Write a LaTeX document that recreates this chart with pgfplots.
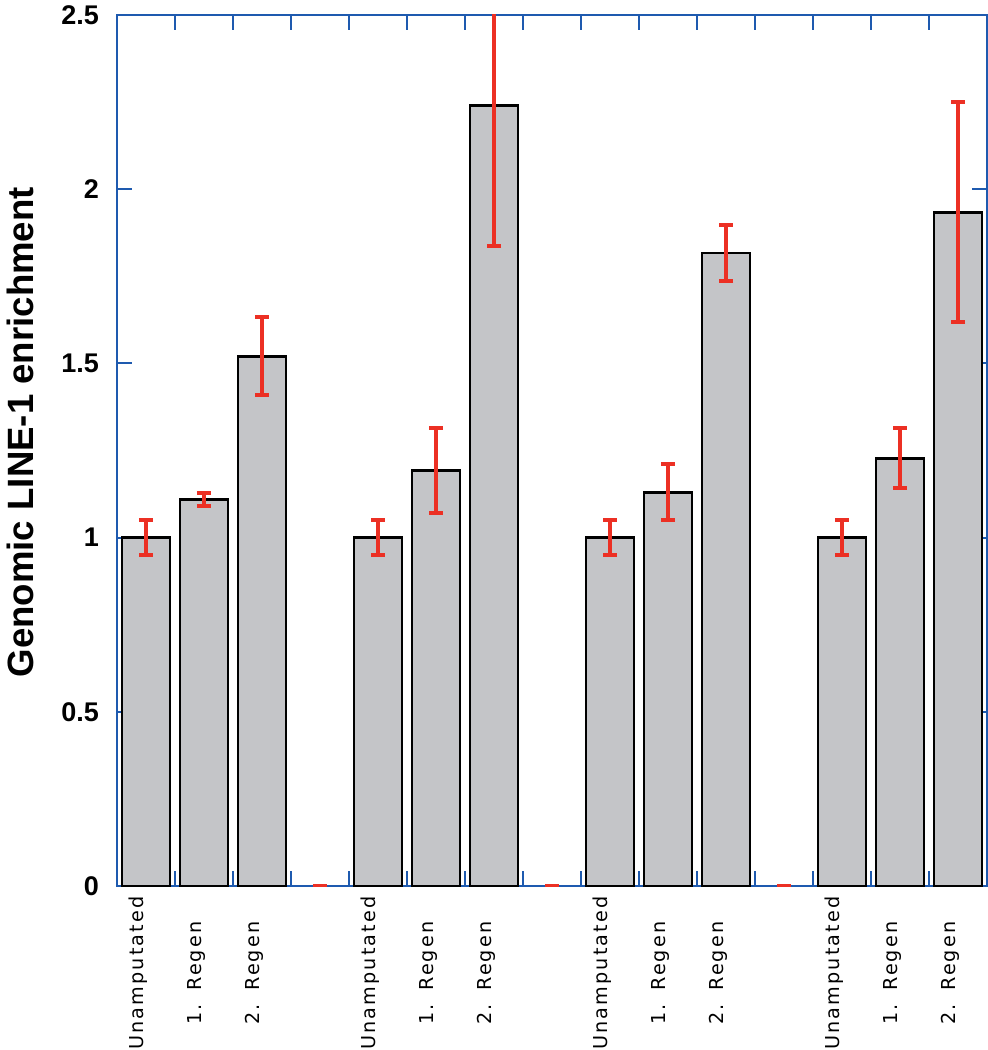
\documentclass[border=0pt]{standalone}
\usepackage{fontspec}
\setmainfont{Liberation Sans}
\newfontfamily\xlab[LetterSpace=11,WordSpace=1.3]{DejaVu Sans}
\usepackage{pgfplots}
\pgfplotsset{compat=1.18}
\definecolor{axblue}{RGB}{30,90,175}
\definecolor{barg}{RGB}{196,197,200}
\definecolor{ered}{RGB}{236,48,36}

\pgfplotstableread{
x y e
0 1.000 0.050
1 1.110 0.018
2 1.520 0.112
4 1.000 0.050
5 1.192 0.122
6 2.240 0.404
8 1.000 0.050
9 1.130 0.080
10 1.817 0.080
12 1.000 0.050
13 1.228 0.087
14 1.934 0.316
}\bardata

\begin{document}
\begin{tikzpicture}
\begin{axis}[
  name=ax, at={(0,0)}, anchor=south west,
  scale only axis, width=435pt, height=435.5pt,
  xmin=-0.5, xmax=14.5, ymin=0, ymax=2.5,
  axis line style={draw=axblue, line width=1pt},
  ytick={0,0.5,1,1.5,2,2.5},
  xtick={0.5,1.5,2.5,3.5,4.5,5.5,6.5,7.5,8.5,9.5,10.5,11.5,12.5,13.5},
  xticklabels={},
  tick style={draw=axblue, line width=1pt},
  major tick length=7.5pt,
  tick align=inside, tick pos=both,
  xticklabel pos=lower, yticklabel pos=left,
  extra x ticks={0,1,2,4,5,6,8,9,10,12,13,14},
  extra x tick labels={Unamputated,1. Regen,2. Regen,Unamputated,1. Regen,2. Regen,Unamputated,1. Regen,2. Regen,Unamputated,1. Regen,2. Regen},
  extra x tick style={major tick length=0pt},
  xticklabel style={font=\xlab\fontsize{9.6}{11}\selectfont, xshift=-4pt, yshift=-43.5pt, rotate=90, anchor=center},
  yticklabel style={font=\fontsize{13.5}{15}\selectfont\bfseries, xshift=-5.5pt},
  /pgf/number format/assume math mode=true,
  ylabel={Genomic LINE-1 enrichment},
  ylabel style={font=\bfseries\fontsize{18.3}{20}\selectfont, at={(axis description cs:-0.111,0.521)}, anchor=center},
]
\addplot[ybar, bar width=24pt, bar shift=0pt, fill=barg, draw=black, line width=1.4pt,
  error bars/.cd, y dir=both, y explicit,
  error bar style={draw=ered, line width=2.2pt},
  error mark options={rotate=90, draw=ered, line width=2pt, mark size=3.5pt}]
  table[x=x, y=y, y error=e] {\bardata};
\addplot[draw=none, mark=none, forget plot,
  error bars/.cd, y dir=both, y explicit,
  error bar style={draw=ered, line width=2.2pt},
  error mark options={rotate=90, draw=ered, line width=2pt, mark size=3.5pt}]
  coordinates {(3,0) +- (0,0) (7,0) +- (0,0) (11,0) +- (0,0)};
\end{axis}
\pgfresetboundingbox
\path[use as bounding box] (-58.5pt,-82pt) rectangle (435.5pt,443pt);
\end{tikzpicture}
\end{document}
